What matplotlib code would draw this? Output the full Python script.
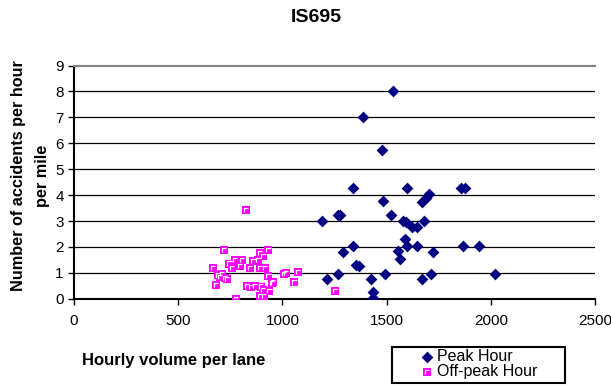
import numpy as np
import matplotlib.pyplot as plt
from matplotlib.path import Path
from matplotlib.patches import Rectangle

plt.rcParams['font.family'] = ['Liberation Sans', 'DejaVu Sans']

# peak hour observations: hourly volume per lane, accidents per hour per mile
peak_volume = [1530, 1385, 1480, 1340, 1597, 1855, 1875, 1668, 1688, 1705,
               1484, 1265, 1278, 1192, 1521, 1578, 1593, 1620, 1645, 1681,
               1588, 1596, 1644, 1337, 1292, 1865, 1942, 1724, 1553, 1565,
               1355, 1368, 1268, 1212, 1424, 1492, 1670, 1713, 2022, 1436,
               1433]
peak_rate = [8.0, 7.0, 5.76, 4.28, 4.28, 4.28, 4.28, 3.75, 3.9, 4.05,
             3.77, 3.23, 3.23, 3.0, 3.23, 3.0, 2.95, 2.77, 2.77, 3.0,
             2.3, 2.05, 2.05, 2.05, 1.79, 2.05, 2.05, 1.79, 1.83, 1.55,
             1.3, 1.28, 0.97, 0.75, 0.75, 0.97, 0.75, 0.97, 0.97, 0.27,
             0.02]

# off-peak hour observations
offpeak_volume = [668, 682, 690, 700, 712, 720, 725, 735, 746, 760,
                  773, 797, 805, 825, 776, 830, 845, 848, 861, 870,
                  885, 893, 893, 897, 905, 909, 917, 933, 933, 938,
                  949, 954, 893, 910, 1008, 1018, 1074, 1058, 1252]
offpeak_rate = [1.19, 0.54, 0.9, 0.85, 0.95, 1.87, 0.8, 0.75, 1.36, 1.2,
                1.51, 1.26, 1.51, 3.41, 0.0, 0.5, 1.19, 0.45, 1.45, 0.5,
                1.51, 1.77, 1.19, 0.47, 0.35, 1.64, 1.19, 1.87, 0.87, 0.3,
                0.6, 0.63, 0.1, 0.12, 0.95, 1.0, 1.02, 0.63, 0.3]

x_ticks = [0, 500, 1000, 1500, 2000, 2500]
y_ticks = list(range(10))

fig = plt.figure(figsize=(6.11, 3.88), dpi=100)
ax = fig.add_axes([0.121, 0.230, 0.853, 0.601])

navy = '#000080'
magenta = '#ff00ff'

# white corner mark drawn inside each magenta square
corner = Path([(-0.5, -0.5), (-0.5, 0.5), (0.5, 0.5)],
              [Path.MOVETO, Path.LINETO, Path.LINETO])

pk = ax.scatter(peak_volume, peak_rate, marker='D', s=36, color=navy,
                linewidths=0, zorder=3)
sq = ax.scatter(offpeak_volume, offpeak_rate, marker='s', s=40,
                color=magenta, linewidths=0, zorder=3)
cn = ax.scatter(offpeak_volume, offpeak_rate, marker=corner, s=9,
                facecolors='none', edgecolors='white', linewidths=0.9,
                zorder=4)

ax.set_xlim(0, 2500)
ax.set_ylim(0, 9)
ax.set_xticks(x_ticks)
ax.set_yticks(y_ticks)
ax.tick_params(direction='out', length=4.3, width=1, labelsize=11,
               color='black')
ax.tick_params(axis='y', pad=3)
ax.tick_params(axis='x', pad=7)

for y in y_ticks[1:-1]:
    ax.axhline(y, color='black', lw=0.9, zorder=1)

ax.spines['right'].set_visible(False)
ax.spines['top'].set_color('#808080')
ax.spines['top'].set_linewidth(1.5)
ax.spines['left'].set_linewidth(1.5)
ax.spines['bottom'].set_linewidth(1.5)

fig.text(316 / 611, 1 - 17 / 388, 'IS695', ha='center', va='center',
         fontsize=14, fontweight='bold')
fig.text(30.5 / 611, 1 - 176 / 388, 'Number of accidents per hour\nper mile',
         rotation=90, ha='center', va='center', fontsize=11.7,
         fontweight='bold', linespacing=1.75)
fig.text(82 / 611, 1 - 360 / 388, 'Hourly volume per lane', ha='left',
         va='center', fontsize=12, fontweight='bold')

# legend box
fig.patches.append(Rectangle((392 / 611, 1 - 383 / 388), 173 / 611, 36 / 388,
                             transform=fig.transFigure, fill=False,
                             edgecolor='black', linewidth=1.5))
fig.legend([pk, (sq, cn)], ['Peak Hour', 'Off-peak Hour'],
           loc='upper left', bbox_to_anchor=(419 / 611, 1 - 349 / 388),
           frameon=False, fontsize=11.5, handlelength=1.0,
           handletextpad=0.15, labelspacing=0.0, borderpad=0,
           borderaxespad=0)

fig.savefig('out.png', dpi=100)
